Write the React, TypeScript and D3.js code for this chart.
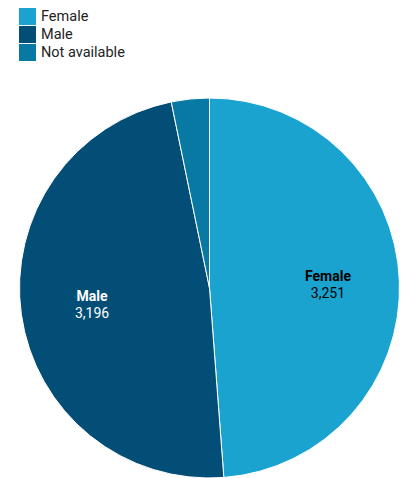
import * as d3 from "d3";

const categories = ["Female", "Male", "Not available"];
const values = [3251, 3196, 215];
const colors = ["#1ba3d0", "#034e76", "#0879a3"];

const W = 407;
const H = 478;
const CX = 209.5;
const CY = 288;
const R = 190;

export default function App() {
  const pie = d3
    .pie<number>()
    .sort(null)
    .value((d) => d);
  const arcs = pie(values);
  const arc = d3.arc<d3.PieArcDatum<number>>().innerRadius(0).outerRadius(R);
  const labelArc = d3
    .arc<d3.PieArcDatum<number>>()
    .innerRadius(R * 0.624)
    .outerRadius(R * 0.624);
  const fmt = d3.format(",");

  return (
    <svg
      width={W}
      height={H}
      style={{ position: "absolute", left: 0, top: 0, fontFamily: "Roboto" }}
    >
      <rect width={W} height={H} fill="#ffffff" />
      <g>
        {categories.map((c, i) => (
          <g key={c} transform={`translate(19, ${8 + i * 18})`}>
            <rect width={17} height={17} fill={colors[i]} />
            <text x={22} y={8.5} dominantBaseline="central" fontSize={14.5} fill="#222">
              {c}
            </text>
          </g>
        ))}
      </g>
      <g transform={`translate(${CX}, ${CY})`}>
        {arcs.map((a, i) => (
          <path
            key={categories[i]}
            d={arc(a) ?? ""}
            fill={colors[i]}
            stroke="#ffffff"
            strokeWidth={1}
          />
        ))}
        {arcs.map((a, i) => {
          if (a.endAngle - a.startAngle < 0.5) return null;
          const [x, y] = labelArc.centroid(a);
          const fill = i === 1 ? "#ffffff" : "#000000";
          return (
            <g key={`l-${categories[i]}`} transform={`translate(${x}, ${y})`}>
              <text
                textAnchor="middle"
                y={-8}
                dominantBaseline="central"
                fontSize={14}
                fontWeight={700}
                fill={fill}
              >
                {categories[i]}
              </text>
              <text
                textAnchor="middle"
                y={9}
                dominantBaseline="central"
                fontSize={14}
                fill={fill}
              >
                {fmt(values[i])}
              </text>
            </g>
          );
        })}
      </g>
    </svg>
  );
}
